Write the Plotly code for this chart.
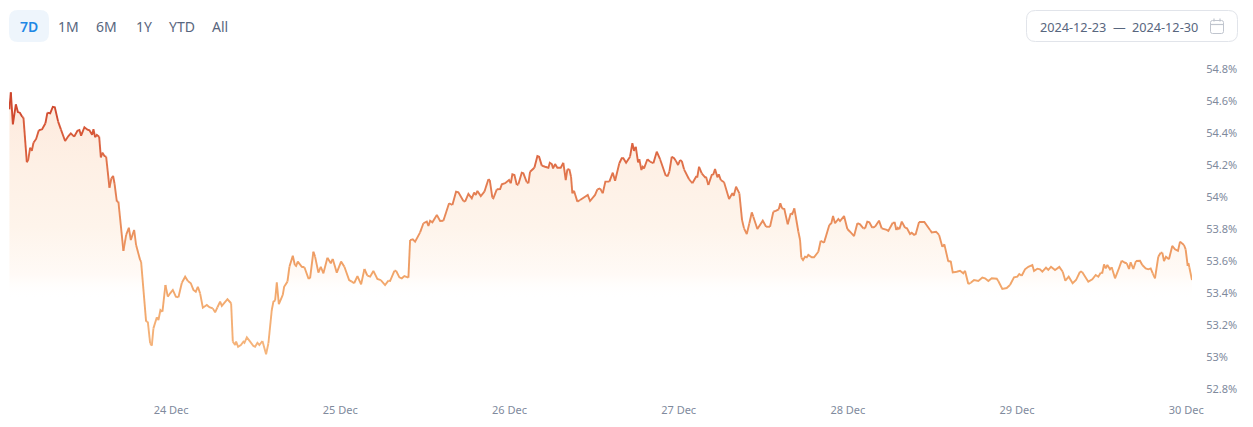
import pandas as pd
import plotly.graph_objects as go

# Hours elapsed since 2024-12-23 00:00
hours = [
1.06,1.26,1.55,1.97,2.26,2.54,2.87,3.05,3.53,3.72,4.0,4.24,4.47,4.85,5.23,5.70,6.17,6.45,6.84,7.22,7.50,7.97,8.36,8.96,9.43,9.77,10.24,10.71,10.99,11.23,
11.70,12.13,12.41,12.79,12.98,13.22,13.46,13.79,14.03,14.26,14.54,14.78,15.25,15.53,15.77,15.96,16.30,16.52,17.23,17.62,18.0,18.28,18.75,19.03,19.60,19.74,20.45,20.69,21.02,21.26,
21.49,21.97,22.2,22.48,22.77,23.19,23.53,23.86,24.24,24.67,25.04,25.52,25.99,26.37,26.79,27.16,27.50,27.79,28.11,28.50,29.06,29.43,29.91,30.24,30.57,30.95,31.19,31.99,32.51,32.75,
33.08,33.22,33.50,33.89,34.25,34.40,34.74,35.21,35.67,35.91,36.24,36.52,36.95,37.47,37.80,38.28,38.51,38.75,38.99,39.28,39.84,40.03,40.50,40.78,41.26,41.55,41.73,41.97,42.54,42.91,
43.47,43.71,44.18,44.42,44.89,45.23,45.60,46.17,46.65,46.93,47.50,48.11,48.58,49.25,49.63,49.96,50.43,50.95,51.42,51.84,52.23,52.69,53.26,53.74,54.35,54.82,55.06,55.67,55.91,56.38,
56.72,57.09,57.66,57.90,58.28,58.61,59.32,59.79,60.27,60.50,60.74,61.06,61.69,62.16,62.62,63.43,63.90,64.42,64.75,65.46,65.70,66.17,66.65,66.98,67.22,67.45,67.93,68.44,69.01,69.20,
69.57,69.71,70.20,70.67,70.91,71.38,71.94,72.18,72.41,72.70,73.04,73.26,73.74,73.97,74.45,74.68,74.92,75.53,75.96,76.2,76.58,77.05,77.52,77.72,78.0,78.18,78.47,78.79,79.27,79.64,
79.98,80.21,80.49,80.73,80.92,81.16,81.63,82.01,82.72,83.10,83.43,84.14,84.47,84.85,85.23,85.6,86.17,86.65,86.98,87.58,87.92,88.15,88.54,89.10,89.43,89.67,89.91,90.24,90.42,90.71,
90.91,91.09,91.56,91.94,92.41,92.89,93.36,94.17,94.45,94.68,95.02,95.35,95.59,95.91,96.2,96.44,96.76,97.47,97.94,98.47,98.65,98.89,99.27,99.74,99.88,100.21,100.69,100.92,101.16,101.49,
101.69,101.97,102.44,103.15,103.62,103.81,104.14,104.61,104.99,105.27,105.66,106.03,106.37,106.59,107.16,107.93,108.4,108.96,109.43,109.77,110.2,110.42,110.66,110.99,111.47,111.9,112.12,112.41,112.98,113.22,
113.40,113.64,113.93,114.17,114.39,114.88,115.2,115.81,116.15,116.62,117.37,117.66,117.9,118.18,118.65,118.89,119.46,119.93,120.31,120.88,121.35,121.73,122.2,122.44,122.76,123.05,123.47,123.85,124.42,124.8,
125.52,125.74,126.37,126.65,126.88,127.08,127.3,127.65,128.11,128.39,128.82,129.06,129.39,129.63,130.1,130.85,131.66,131.9,132.51,132.94,133.4,133.69,134.25,134.59,134.88,135.44,135.91,136.38,136.62,137.09,
137.43,137.9,138.51,139.08,139.46,139.93,140.41,141.12,141.34,141.91,142.53,143.0,143.57,144.04,144.32,144.66,145.13,145.6,146.17,146.41,146.88,147.26,147.59,148.11,148.44,148.82,149.39,150.0,150.48,150.85,
151.33,151.89,152.37,152.93,153.22,154.11,154.68,155.16,155.53,155.87,156.1,156.34,156.58,156.81,157.19,157.43,157.9,158.37,158.85,159.32,159.56,159.88,160.12,160.49,160.87,161.44,161.77,162.25,162.62,162.96,
163.25,163.57,164.04,164.38,164.61,164.85,165.13,165.55,166.02,166.41,166.83,167.12,167.68,167.92,168.21,168.32,168.44,168.82,
]
# Percentage values at those times
values = [
54.548,54.654,54.454,54.579,54.531,54.527,54.502,54.496,54.217,54.231,54.308,54.288,54.339,54.363,54.417,54.423,54.461,54.527,54.523,54.564,54.561,54.471,54.423,54.35,54.381,54.398,54.377,54.414,54.419,54.383,
54.436,54.421,54.417,54.389,54.423,54.373,54.388,54.377,54.248,54.277,54.256,54.252,54.058,54.117,54.131,54.086,53.971,53.971,53.663,53.763,53.808,53.731,53.794,53.7,53.606,53.596,53.221,53.221,53.086,53.071,
53.179,53.248,53.231,53.294,53.283,53.45,53.377,53.398,53.419,53.377,53.373,53.464,53.502,53.475,53.461,53.419,53.408,53.439,53.398,53.308,53.325,53.311,53.304,53.279,53.311,53.346,53.319,53.361,53.336,53.096,
53.075,53.096,53.064,53.075,53.096,53.089,53.123,53.096,53.069,53.064,53.089,53.075,53.1,53.017,53.086,53.294,53.346,53.352,53.467,53.331,53.388,53.439,53.471,53.564,53.633,53.575,53.569,53.596,53.564,53.561,
53.492,53.492,53.658,53.627,53.527,53.564,53.523,53.621,53.586,53.613,53.527,53.596,53.564,53.481,53.471,53.461,53.506,53.454,53.55,53.508,53.502,53.538,53.488,53.481,53.45,53.477,53.475,53.539,53.539,53.498,
53.492,53.506,53.496,53.731,53.736,53.721,53.779,53.836,53.846,53.819,53.852,53.842,53.888,53.85,53.852,53.961,53.95,54.033,54.029,53.975,53.971,54.019,53.992,54.027,54.013,54.038,54.006,54.033,54.111,54.106,
53.996,53.992,54.048,54.05,54.079,54.086,54.106,54.086,54.142,54.138,54.075,54.079,54.152,54.148,54.092,54.086,54.158,54.183,54.256,54.252,54.196,54.189,54.183,54.214,54.206,54.179,54.206,54.183,54.183,54.214,
54.106,54.173,54.173,54.127,54.023,54.038,53.971,53.981,54.002,54.013,53.975,54.013,54.048,54.054,54.023,54.096,54.096,54.152,54.102,54.211,54.242,54.242,54.214,54.252,54.336,54.289,54.314,54.217,54.236,54.169,
54.189,54.179,54.236,54.221,54.211,54.283,54.236,54.133,54.133,54.158,54.252,54.242,54.227,54.2,54.231,54.225,54.173,54.111,54.086,54.127,54.127,54.189,54.148,54.123,54.127,54.075,54.138,54.142,54.175,54.123,
54.142,54.106,54.092,53.988,54.023,54.008,54.064,54.023,53.856,53.804,53.769,53.836,53.904,53.877,53.8,53.852,53.814,53.814,53.908,53.914,53.923,53.961,53.929,53.925,53.829,53.898,53.894,53.929,53.783,53.731,
53.621,53.606,53.627,53.623,53.638,53.623,53.623,53.658,53.727,53.714,53.825,53.836,53.881,53.836,53.863,53.85,53.881,53.8,53.783,53.756,53.836,53.829,53.804,53.804,53.846,53.842,53.808,53.814,53.852,53.804,
53.794,53.788,53.839,53.839,53.794,53.808,53.798,53.846,53.808,53.804,53.769,53.777,53.764,53.769,53.844,53.844,53.794,53.779,53.783,53.763,53.689,53.704,53.596,53.6,53.529,53.533,53.539,53.523,53.539,53.456,
53.464,53.481,53.475,53.496,53.492,53.475,53.492,53.489,53.475,53.425,53.431,53.45,53.498,53.502,53.519,53.508,53.548,53.564,53.575,53.538,53.552,53.548,53.533,53.558,53.544,53.564,53.544,53.563,53.533,53.477,
53.502,53.461,53.481,53.533,53.533,53.471,53.486,53.513,53.502,53.527,53.527,53.579,53.554,53.575,53.548,53.561,53.492,53.544,53.602,53.589,53.586,53.55,53.592,53.55,53.6,53.602,53.575,53.554,53.548,53.554,
53.523,53.492,53.627,53.652,53.652,53.6,53.627,53.611,53.694,53.673,53.663,53.721,53.7,53.673,53.569,53.586,53.561,53.481,
]

y_tick_values = [54.8, 54.6, 54.4, 54.2, 54, 53.8, 53.6, 53.4, 53.2, 53, 52.8]
y_tick_labels = ["54.8%", "54.6%", "54.4%", "54.2%", "54%", "53.8%", "53.6%", "53.4%", "53.2%", "53%", "52.8%"]
x_tick_dates = ["2024-12-24", "2024-12-25", "2024-12-26", "2024-12-27", "2024-12-28", "2024-12-29", "2024-12-30"]
x_tick_labels = ["24 Dec", "25 Dec", "26 Dec", "27 Dec", "28 Dec", "29 Dec", "30 Dec"]
range_buttons = ["7D", "1M", "6M", "1Y", "YTD", "All"]
date_from, date_to = "2024-12-23", "2024-12-30"

W, H = 1253, 427
L, R, T, B = 9, 1192, 60, 395   # plot area, in page pixels
FONT = "Noto Sans"

times = pd.Timestamp("2024-12-23") + pd.to_timedelta(hours, unit="h")

# line colour by height: deep red at the top, pale orange at the bottom
stops = [(52.95, (246, 184, 128)), (53.5, (241, 165, 105)), (54.0, (229, 130, 85)),
         (54.4, (216, 90, 58)), (54.68, (200, 58, 36))]

def colour_at(v):
    if v <= stops[0][0]:
        return stops[0][1]
    for (a, ca), (b, cb) in zip(stops, stops[1:]):
        if v <= b:
            t = (v - a) / (b - a)
            return tuple(round(p + (q - p) * t) for p, q in zip(ca, cb))
    return stops[-1][1]

BANDS = 30
LO, HI = 52.95, 54.68
def band_of(v):
    return min(BANDS - 1, max(0, int((v - LO) / (HI - LO) * BANDS)))

paths = {}
last = None
for i in range(len(values) - 1):
    b = band_of((values[i] + values[i + 1]) / 2)
    xs, ys = paths.setdefault(b, ([], []))
    if last != b:
        if xs:
            xs.append(None); ys.append(None)
        xs.append(times[i]); ys.append(values[i])
    xs.append(times[i + 1]); ys.append(values[i + 1])
    last = b

fig = go.Figure()
fig.add_trace(go.Scatter(
    x=times, y=values, mode="none", fill="tozeroy", hoverinfo="skip", showlegend=False,
    fillgradient=dict(type="vertical", start=54.66, stop=53.36, colorscale=[
        [0, "rgba(253,233,220,1)"], [0.35, "rgba(254,240,229,1)"], [0.65, "rgba(254,244,235,1)"],
        [0.88, "rgba(255,250,246,1)"], [1, "rgba(255,255,255,0)"]]),
))
for b, (xs, ys) in sorted(paths.items()):
    r, g, bl = colour_at(LO + (b + 0.5) / BANDS * (HI - LO))
    fig.add_trace(go.Scatter(x=xs, y=ys, mode="lines", showlegend=False, hoverinfo="skip",
                             line=dict(color=f"rgb({r},{g},{bl})", width=1.9, simplify=False)))

def px(x):
    return (x - L) / (R - L)
def py(y):
    return (B - y) / (B - T)

def rounded(x0, y0, x1, y1, r):
    X0, X1, Y0, Y1 = px(x0), px(x1), py(y0), py(y1)
    rx, ry = r / (R - L), r / (B - T)
    return (f"M{X0+rx},{Y0} L{X1-rx},{Y0} Q{X1},{Y0} {X1},{Y0-ry} L{X1},{Y1+ry} Q{X1},{Y1} {X1-rx},{Y1} "
            f"L{X0+rx},{Y1} Q{X0},{Y1} {X0},{Y1+ry} L{X0},{Y0-ry} Q{X0},{Y0} {X0+rx},{Y0} Z")

def shape(path, fill="rgba(0,0,0,0)", line="rgba(0,0,0,0)", width=1):
    return dict(type="path", xref="paper", yref="paper", path=path, fillcolor=fill,
                line=dict(color=line, width=width), layer="above")

def segment(x0, y0, x1, y1, colour):
    return dict(type="line", xref="paper", yref="paper", x0=px(x0), y0=py(y0), x1=px(x1), y1=py(y1),
                line=dict(color=colour, width=1.2), layer="above")

def label(text, x, y, size, colour, weight=400):
    return dict(text=text, xref="paper", yref="paper", x=px(x), y=py(y), xanchor="center", yanchor="middle",
                showarrow=False, font=dict(family=FONT, size=size, color=colour, weight=weight))

ICON = "#c0c5ce"
shapes = [
    shape(rounded(9, 10, 49, 42, 9), fill="#eef5fc"),
    shape(rounded(1026.5, 10.5, 1237.5, 41.5, 9), fill="#ffffff", line="#e1e4ea"),
    shape(rounded(1210.5, 20.5, 1223.5, 33.5, 2), line=ICON),
    segment(1210.5, 24.5, 1223.5, 24.5, ICON),
    segment(1214, 18.5, 1214, 21.5, ICON),
    segment(1220, 18.5, 1220, 21.5, ICON),
]
button_centres = [29, 68, 106, 144, 182, 219.5]
annotations = [
    label(t, c, 27, 14, "#1e88e5" if t == "7D" else "#58667e", 600 if t == "7D" else 400)
    for t, c in zip(range_buttons, button_centres)
]
annotations += [label(date_from, 1073, 27, 12.7, "#58667e"), label("—", 1119, 27, 12.7, "#58667e"),
                label(date_to, 1165, 27, 12.7, "#58667e")]

fig.update_layout(
    width=W, height=H, margin=dict(l=L, r=W - R, t=T, b=H - B, pad=0, autoexpand=False),
    paper_bgcolor="white", plot_bgcolor="white", showlegend=False,
    shapes=shapes, annotations=annotations,
    xaxis=dict(
        range=[pd.Timestamp("2024-12-23 01:00"), pd.Timestamp("2024-12-23") + pd.Timedelta(hours=168.82)],
        tickmode="array", tickvals=x_tick_dates, ticktext=x_tick_labels,
        showgrid=False, zeroline=False, showline=False, ticks="outside", ticklen=5, tickcolor="rgba(0,0,0,0)",
        tickfont=dict(family=FONT, size=11, color="#808a9d"), fixedrange=True,
    ),
    yaxis=dict(
        side="right", range=[52.7625, 54.85625],
        tickmode="array", tickvals=y_tick_values, ticktext=y_tick_labels,
        showgrid=False, zeroline=False, showline=False, ticks="outside", ticklen=11, tickcolor="rgba(0,0,0,0)",
        tickfont=dict(family=FONT, size=11, color="#808a9d"), fixedrange=True,
    ),
)
fig.write_html("out.html", config={"displayModeBar": False},
               post_script="document.body.style.margin='0';")
